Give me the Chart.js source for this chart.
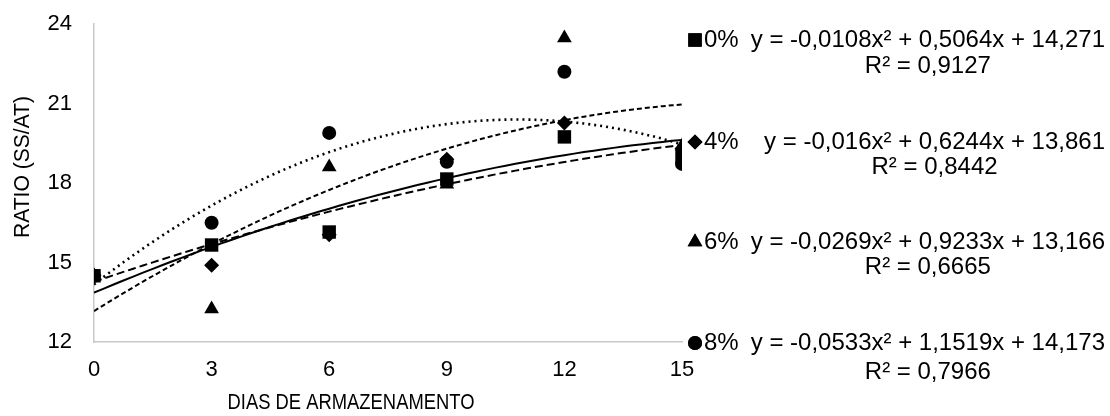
<!DOCTYPE html>
<html>
<head>
<meta charset="utf-8">
<script src="https://cdn.jsdelivr.net/npm/chart.js@4.4.0/dist/chart.umd.min.js"></script>
<style>
  body { margin: 0; background: #fff; }
  #wrap { width: 1110px; height: 416px; }
</style>
</head>
<body>
<div id="wrap"><canvas id="ratioChart" width="1110" height="416"></canvas></div>
<script>
// dias de armazenamento
const days = [0, 3, 6, 9, 12, 15];

// ratio SS/AT por concentração
const ratio0 = [14.5, 15.66, 16.15, 18.15, 19.74, 19.0];
const ratio4 = [14.5, 14.9, 16.05, 18.9, 20.26, 19.3];
const ratio6 = [14.5, 13.25, 18.6, 17.95, 23.47, 19.4];
const ratio8 = [14.5, 16.5, 19.89, 18.8, 22.2, 18.72];

const seriesNames = ["0%", "4%", "6%", "8%"];

// coeficientes das linhas de tendência (y = a x² + b x + c)
const coefA = [-0.0108, -0.016, -0.0269, -0.0533];
const coefB = [0.5064, 0.6244, 0.9233, 1.1519];
const coefC = [14.271, 13.861, 13.166, 14.173];
const rSquared = [0.9127, 0.8442, 0.6665, 0.7966];

const yTicks = [12, 15, 18, 21, 24];

const FONT = "'Liberation Sans', Arial, sans-serif";
const markerStyles = ["rect", "rectRot", "triangle", "circle"];
const markerRadius = [9.5, 7.5, 8.5, 7];
const trendDash = [[8, 4], [], [5, 3], [2, 4]];
const trendWidth = [2, 2, 2, 2.6];

const toPoints = (ys) => days.map((d, i) => ({ x: d, y: ys[i] }));
const trendPoints = (k) => {
    const pts = [];
    for (let x = 0; x <= 15; x += 0.25) {
        pts.push({ x: x, y: coefA[k] * x * x + coefB[k] * x + coefC[k] });
    }
    return pts;
};
const fmt = (v) => String(v).replace(".", ",");

const allRatios = [ratio0, ratio4, ratio6, ratio8];

const datasets = [];
allRatios.forEach((ys, k) => {
    datasets.push({
        label: seriesNames[k],
        data: toPoints(ys),
        pointStyle: markerStyles[k],
        pointRadius: markerRadius[k],
        pointBackgroundColor: "#000",
        pointBorderColor: "#000",
        pointBorderWidth: 0,
        showLine: false,
        order: 0,
    });
});
allRatios.forEach((ys, k) => {
    datasets.push({
        label: "trend " + seriesNames[k],
        data: trendPoints(k),
        showLine: true,
        pointRadius: 0,
        borderColor: "#000",
        borderWidth: trendWidth[k],
        borderDash: trendDash[k],
        tension: 0,
        order: 1,
    });
});

// texto condensado (os títulos do original são mais estreitos)
function fitText(ctx, text, width) {
    const w = ctx.measureText(text).width;
    ctx.save();
    ctx.scale(width / w, 1);
    ctx.fillText(text, 0, 0);
    ctx.restore();
}

// textos extras: títulos dos eixos, legenda e equações
const extrasPlugin = {
    id: "extras",
    afterDraw(chart) {
        const ctx = chart.ctx;
        ctx.save();
        ctx.fillStyle = "#000";
        ctx.textBaseline = "middle";
        ctx.textAlign = "center";
        ctx.font = "22px " + FONT;

        // titulo eixo x
        ctx.save();
        ctx.translate(351, 403);
        fitText(ctx, "DIAS DE ARMAZENAMENTO", 247);
        ctx.restore();

        // titulo eixo y
        ctx.save();
        ctx.translate(23, 167);
        ctx.rotate(-Math.PI / 2);
        fitText(ctx, "RATIO (SS/AT)", 142);
        ctx.restore();

        ctx.font = "24px " + FONT;
        const rowY = [40, 142, 242, 343];
        const r2Gap = [26, 25, 25, 29];
        seriesNames.forEach((name, k) => {
            const y = rowY[k];
            Chart.helpers.drawPoint(ctx, {
                pointStyle: markerStyles[k],
                radius: markerRadius[k],
                borderWidth: 0,
            }, 695, y);
            ctx.fill();

            ctx.textAlign = "left";
            ctx.fillText(name, 704, y);

            const eq = "y = " + fmt(coefA[k]) + "x² + " + fmt(coefB[k]) + "x + " + fmt(coefC[k]);
            ctx.textAlign = "right";
            ctx.fillText(eq, 1105, y);
            const w = ctx.measureText(eq).width;
            ctx.textAlign = "center";
            ctx.fillText("R² = " + fmt(rSquared[k]), 1105 - w / 2, y + r2Gap[k]);
        });
        ctx.restore();
    },
};

const ctx = document.getElementById("ratioChart").getContext("2d");
new Chart(ctx, {
    type: "scatter",
    data: { datasets: datasets },
    options: {
        responsive: false,
        animation: false,
        layout: { padding: { top: 24, right: 428, left: 0, bottom: 0 } },
        plugins: { legend: { display: false }, tooltip: { enabled: false } },
        scales: {
            x: {
                type: "linear",
                min: 0,
                max: 15,
                ticks: { stepSize: 3, color: "#000", padding: 15, font: { size: 22, family: FONT } },
                grid: { display: false, drawTicks: false },
                border: { color: "#c8c8c8", width: 1.5 },
                afterFit(scale) { scale.height = 74; },
            },
            y: {
                min: 12,
                max: 24,
                afterBuildTicks(scale) { scale.ticks = yTicks.map((v) => ({ value: v })); },
                ticks: { color: "#000", padding: 22, font: { size: 22, family: FONT } },
                grid: { display: false, drawTicks: false },
                border: { color: "#c8c8c8", width: 1.5 },
                afterFit(scale) {
                    scale.width = 94;
                    scale.paddingTop = 0;
                    scale.paddingBottom = 0;
                },
            },
        },
    },
    plugins: [extrasPlugin],
});
</script>
</body>
</html>
